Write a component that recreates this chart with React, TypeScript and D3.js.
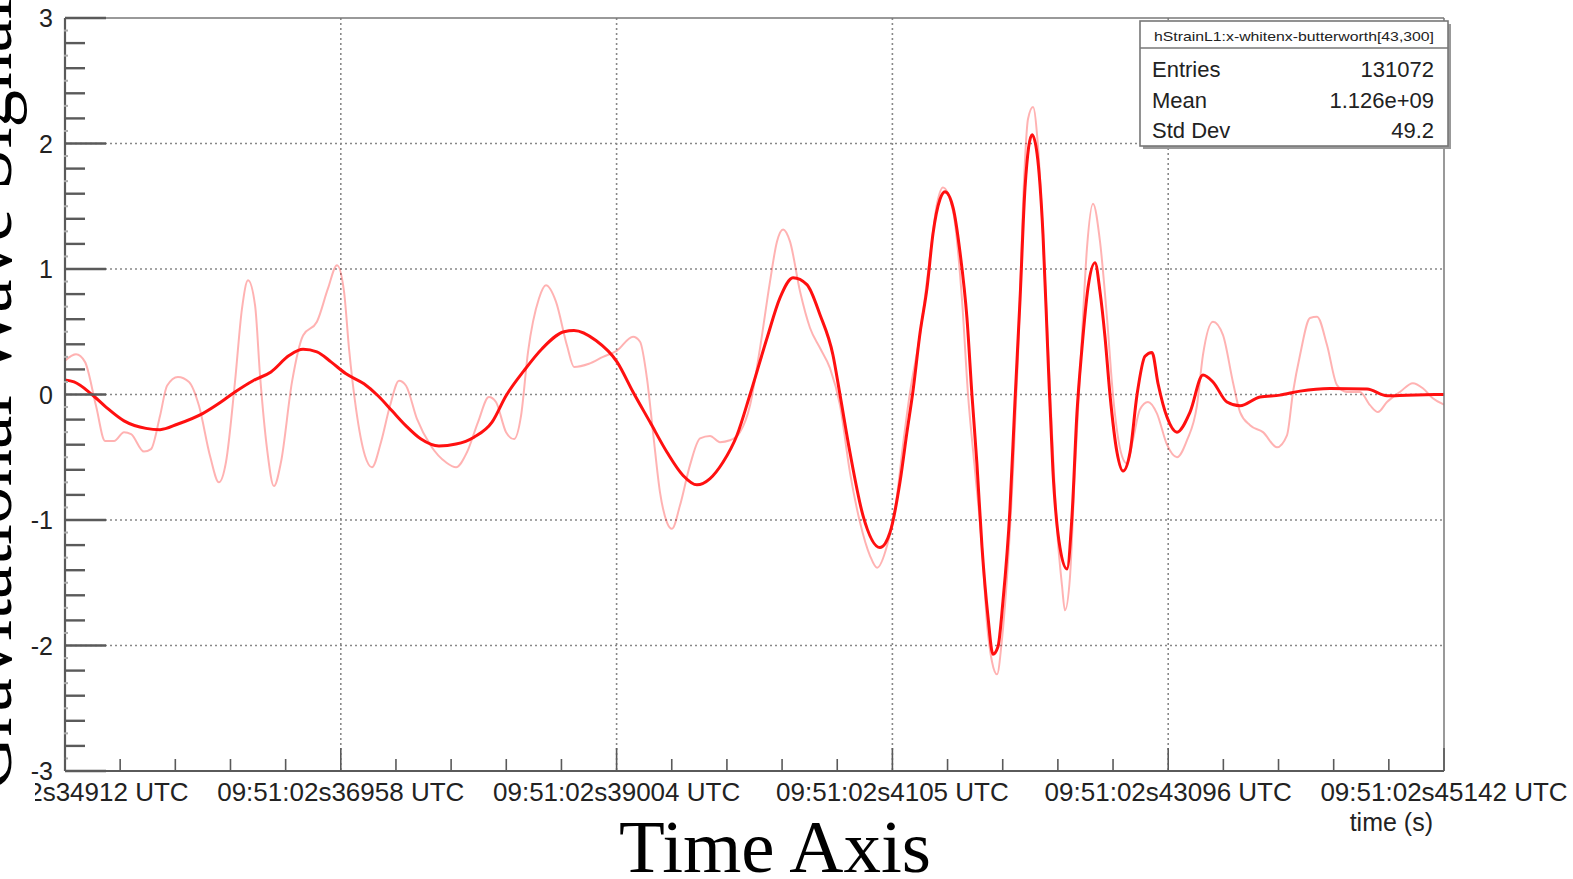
import React from "react";
import * as d3 from "d3";

// ---- data (time offsets relative to first tick, arbitrary axis units) ----
const xTickLabels = [
  "09:51:02s34912 UTC",
  "09:51:02s36958 UTC",
  "09:51:02s39004 UTC",
  "09:51:02s4105 UTC",
  "09:51:02s43096 UTC",
  "09:51:02s45142 UTC",
];
const xTickValues = [0, 2046, 4092, 6138, 8184, 10230];
const yTickValues = [-3, -2, -1, 0, 1, 2, 3];

// thick (filtered) signal
const thickT = [0, 67, 200, 304, 438, 601, 705, 838, 1024, 1157, 1261, 1395, 1528, 1662, 1766, 1869, 1973, 2085, 2218, 2322, 2426, 2530, 2641, 2774, 2901, 3034, 3168, 3272, 3405, 3539, 3702, 3776, 3939, 4095, 4214, 4340, 4466, 4585, 4688, 4785, 4881, 4985, 5082, 5208, 5304, 5401, 5504, 5601, 5697, 5749, 5823, 5920, 6046, 6120, 6194, 6246, 6291, 6343, 6395, 6439, 6491, 6528, 6588, 6640, 6691, 6728, 6765, 6803, 6847, 6884, 6921, 6958, 7010, 7047, 7085, 7122, 7174, 7211, 7255, 7292, 7329, 7381, 7433, 7470, 7507, 7544, 7589, 7641, 7678, 7715, 7752, 7804, 7849, 7901, 7953, 8012, 8064, 8108, 8175, 8249, 8346, 8442, 8516, 8620, 8717, 8865, 9013, 9162, 9384, 9659, 9807, 9955, 10230];
const thickV = [0.115, 0.1, 0, -0.1, -0.21, -0.27, -0.28, -0.235, -0.15, -0.06, 0.02, 0.11, 0.18, 0.31, 0.36, 0.34, 0.26, 0.165, 0.085, -0.01, -0.13, -0.25, -0.355, -0.41, -0.395, -0.34, -0.22, -0.01, 0.19, 0.365, 0.5, 0.51, 0.43, 0.26, 0.02, -0.22, -0.46, -0.645, -0.72, -0.67, -0.54, -0.325, 0, 0.45, 0.77, 0.93, 0.875, 0.635, 0.315, 0, -0.46, -0.965, -1.22, -1.1, -0.7, -0.3, 0.03, 0.49, 0.85, 1.28, 1.555, 1.615, 1.49, 1.13, 0.61, 0, -0.55, -1.22, -1.77, -2.07, -2.01, -1.65, -0.915, -0.06, 0.76, 1.65, 2.07, 1.92, 1.28, 0.305, -0.61, -1.22, -1.39, -0.975, -0.15, 0.365, 0.85, 1.05, 0.82, 0.46, 0, -0.46, -0.61, -0.46, 0, 0.305, 0.335, 0.09, -0.18, -0.3, -0.14, 0.155, 0.1, -0.06, -0.09, -0.02, -0.005, 0.027, 0.048, 0.043, -0.01, -0.005, 0];

// thin (raw whitened) signal
const thinT = [0, 82, 148, 230, 297, 364, 438, 490, 586, 638, 705, 757, 838, 920, 994, 1076, 1142, 1194, 1261, 1313, 1358, 1410, 1447, 1499, 1550, 1602, 1684, 1766, 1869, 1951, 2018, 2070, 2107, 2159, 2226, 2277, 2344, 2411, 2478, 2530, 2611, 2715, 2826, 2901, 2982, 3064, 3145, 3197, 3272, 3331, 3383, 3435, 3516, 3568, 3642, 3724, 3776, 3887, 3991, 4095, 4214, 4266, 4317, 4362, 4414, 4466, 4503, 4562, 4636, 4711, 4785, 4859, 4933, 5007, 5082, 5156, 5230, 5282, 5327, 5378, 5453, 5527, 5601, 5675, 5749, 5823, 5898, 5972, 6024, 6098, 6172, 6217, 6269, 6343, 6417, 6469, 6513, 6588, 6654, 6699, 6751, 6803, 6840, 6877, 6914, 6951, 6988, 7033, 7070, 7107, 7144, 7181, 7218, 7270, 7322, 7359, 7396, 7418, 7455, 7492, 7544, 7581, 7626, 7678, 7730, 7774, 7841, 7878, 7922, 7974, 8034, 8100, 8175, 8249, 8323, 8397, 8442, 8516, 8590, 8664, 8717, 8791, 8887, 8991, 9065, 9110, 9162, 9236, 9288, 9362, 9436, 9510, 9607, 9681, 9740, 9807, 9903, 9999, 10073, 10147, 10230];
const thinV = [0.27, 0.32, 0.26, -0.09, -0.37, -0.37, -0.3, -0.315, -0.455, -0.435, -0.17, 0.07, 0.14, 0.1, -0.09, -0.49, -0.7, -0.54, 0.1, 0.685, 0.91, 0.71, 0.15, -0.435, -0.73, -0.54, 0.1, 0.47, 0.58, 0.845, 1.03, 0.82, 0.365, -0.115, -0.49, -0.58, -0.38, -0.09, 0.11, 0.07, -0.195, -0.41, -0.54, -0.58, -0.46, -0.22, -0.02, -0.06, -0.3, -0.355, -0.17, 0.34, 0.765, 0.87, 0.74, 0.39, 0.22, 0.245, 0.3, 0.35, 0.46, 0.42, 0.13, -0.3, -0.78, -1.02, -1.07, -0.885, -0.565, -0.35, -0.33, -0.38, -0.365, -0.3, -0.085, 0.37, 0.9, 1.22, 1.315, 1.22, 0.82, 0.53, 0.37, 0.21, -0.085, -0.62, -1.02, -1.285, -1.38, -1.205, -0.805, -0.4, 0.02, 0.48, 1.1, 1.52, 1.65, 1.46, 0.76, 0, -0.61, -1.22, -1.83, -2.13, -2.23, -1.95, -1.46, -0.61, 0.305, 1.52, 2.195, 2.29, 1.98, 0.915, -0.305, -1.07, -1.52, -1.72, -1.46, -0.61, 0.46, 1.16, 1.52, 1.22, 0.61, 0, -0.49, -0.55, -0.365, -0.12, -0.06, -0.15, -0.4, -0.5, -0.365, -0.09, 0.315, 0.58, 0.475, 0.1, -0.14, -0.245, -0.3, -0.42, -0.325, 0.02, 0.315, 0.61, 0.62, 0.395, 0.075, 0.02, 0.02, -0.085, -0.14, -0.06, 0.02, 0.09, 0.05, -0.03, -0.08];

const statsTitle = "hStrainL1:x-whitenx-butterworth[43,300]";
const statsLabels = ["Entries", "Mean", "Std Dev"];
const statsValues = ["131072", "1.126e+09", "49.2"];

const W = 1573;
const H = 879;
const M = { left: 65, right: 1444, top: 18, bottom: 771 };

export default function App() {
  const x = d3.scaleLinear().domain([0, 10230]).range([M.left, M.right]);
  const y = d3.scaleLinear().domain([-3, 3]).range([M.bottom, M.top]);

  const line = d3
    .line<[number, number]>()
    .x((d) => x(d[0]))
    .y((d) => y(d[1]))
    .curve(d3.curveMonotoneX);

  const thick = line(thickT.map((t, i) => [t, thickV[i]] as [number, number])) || "";
  const thin = line(thinT.map((t, i) => [t, thinV[i]] as [number, number])) || "";

  const xMinor = d3.range(0, 10230 + 1, 409.2);
  const yMinor = d3.range(-3, 3.0001, 0.2);
  const yTiny = d3.range(-2.9, 3, 0.2);

  const sans = "'Liberation Sans', Arial, Helvetica, sans-serif";
  const serif = "'Liberation Serif', 'Times New Roman', serif";
  const axisCol = "#5a5a5a";

  return (
    <svg
      width={W}
      height={H}
      style={{ position: "fixed", left: 0, top: 0, background: "#fff" }}
    >
      <defs>
        <clipPath id="firstLbl">
          <rect x={35} y={700} width={400} height={150} />
        </clipPath>
        <clipPath id="plotArea">
          <rect x={M.left} y={M.top} width={M.right - M.left} height={M.bottom - M.top} />
        </clipPath>
      </defs>
      <rect x={0} y={0} width={W} height={H} fill="#fff" />

      {/* grid */}
      {yTickValues.slice(1, -1).map((v) => (
        <line
          key={"gy" + v}
          x1={M.left}
          x2={M.right}
          y1={y(v)}
          y2={y(v)}
          stroke="#888"
          strokeWidth={1.6}
          strokeDasharray="2,3"
        />
      ))}
      {xTickValues.slice(1, -1).map((v) => (
        <line
          key={"gx" + v}
          x1={x(v)}
          x2={x(v)}
          y1={M.top}
          y2={M.bottom}
          stroke="#888"
          strokeWidth={1.6}
          strokeDasharray="2,3"
        />
      ))}

      {/* curves */}
      <g clipPath="url(#plotArea)">
        <path d={thin} fill="none" stroke="#ff0000" strokeOpacity={0.3} strokeWidth={2} />
        <path d={thick} fill="none" stroke="#ff1010" strokeWidth={3} strokeLinejoin="round" />
      </g>

      {/* frame */}
      <line x1={M.left} x2={M.right} y1={M.top} y2={M.top} stroke="#777" strokeWidth={1.5} />
      <line x1={M.right} x2={M.right} y1={M.top} y2={M.bottom} stroke="#777" strokeWidth={1.5} />
      <line x1={M.left} x2={M.left} y1={M.top} y2={M.bottom} stroke={axisCol} strokeWidth={2.2} />
      <line x1={M.left} x2={M.right} y1={M.bottom} y2={M.bottom} stroke={axisCol} strokeWidth={2.2} />

      {/* y ticks */}
      {yMinor.map((v, i) => {
        const major = Math.abs(v - Math.round(v)) < 1e-6;
        return (
          <line
            key={"yt" + i}
            x1={M.left}
            x2={M.left + (major ? 41 : 20)}
            y1={y(v)}
            y2={y(v)}
            stroke={axisCol}
            strokeWidth={2.4}
          />
        );
      })}
      {yTiny.map((v, i) => (
        <line
          key={"ytt" + i}
          x1={M.left - 1}
          x2={M.left + 3}
          y1={y(v)}
          y2={y(v)}
          stroke="#aaa"
          strokeWidth={2}
        />
      ))}
      {yTickValues.map((v) => (
        <text
          key={"yl" + v}
          x={53}
          y={y(v)}
          dy="0.36em"
          textAnchor="end"
          fontFamily={sans}
          fontSize={25}
          fill="#222"
        >
          {v < 0 ? "-" + Math.abs(v) : String(v)}
        </text>
      ))}

      {/* x ticks */}
      {xMinor.map((v, i) => {
        const major = i % 5 === 0;
        return (
          <line
            key={"xt" + i}
            x1={x(v)}
            x2={x(v)}
            y1={M.bottom}
            y2={M.bottom - (major ? 23 : 12)}
            stroke={axisCol}
            strokeWidth={1.6}
          />
        );
      })}
      {xTickValues.map((v, i) => (
        <text
          key={"xl" + v}
          x={x(v)}
          y={801}
          textAnchor="middle"
          fontFamily={sans}
          fontSize={26}
          fill="#222"
          clipPath={i === 0 ? "url(#firstLbl)" : undefined}
        >
          {xTickLabels[i]}
        </text>
      ))}
      <text x={1433} y={831} textAnchor="end" fontFamily={sans} fontSize={25} fill="#222">
        time (s)
      </text>

      {/* stats box */}
      <rect x={1143} y={24} width={308} height={125} fill="#999" />
      <rect x={1140} y={21} width={308} height={125} fill="#fff" stroke="#777" strokeWidth={1.6} />
      <line x1={1140} x2={1448} y1={48} y2={48} stroke="#777" strokeWidth={1.4} />
      <text
        x={1294}
        y={41}
        textAnchor="middle"
        fontFamily={sans}
        fontSize={13}
        textLength={280}
        lengthAdjust="spacingAndGlyphs"
        fill="#222"
      >
        {statsTitle}
      </text>
      {statsLabels.map((l, i) => (
        <g key={"st" + i}>
          <text x={1152} y={77 + i * 30.5} fontFamily={sans} fontSize={22} fill="#222">
            {l}
          </text>
          <text x={1434} y={77 + i * 30.5} textAnchor="end" fontFamily={sans} fontSize={22} fill="#222">
            {statsValues[i]}
          </text>
        </g>
      ))}

      {/* titles */}
      <text x={775} y={872} textAnchor="middle" fontFamily={serif} fontSize={75} fill="#000">
        Time Axis
      </text>
      <text
        transform={`translate(11, ${(M.top + M.bottom) / 2}) rotate(-90)`}
        textAnchor="middle"
        fontFamily={serif}
        fontSize={75}
        fill="#000"
      >
        Gravitational Wave Signal
      </text>
    </svg>
  );
}
